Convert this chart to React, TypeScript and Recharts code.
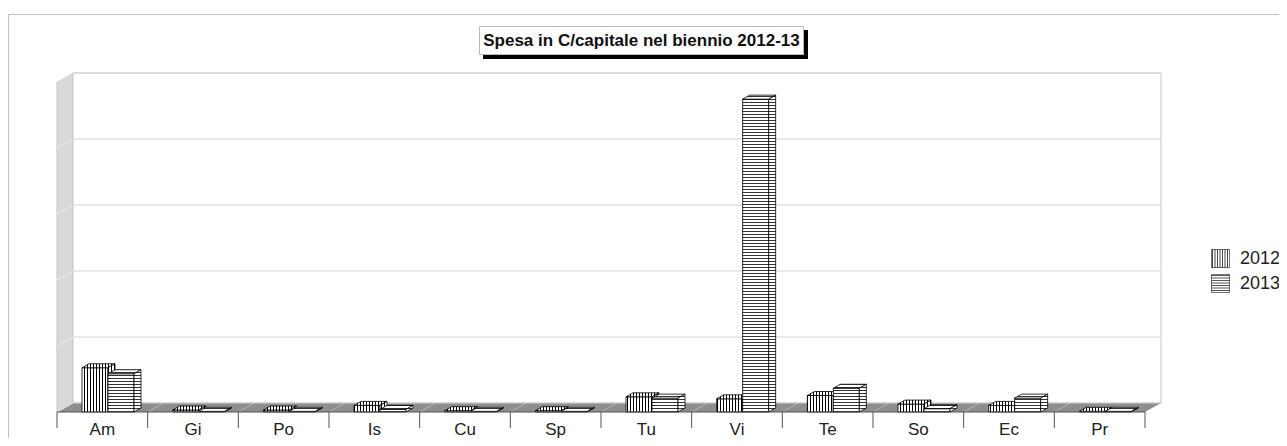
import React from 'react'
import { BarChart, Bar, XAxis, YAxis, CartesianGrid } from 'recharts'

const categories = ['Am', 'Gi', 'Po', 'Is', 'Cu', 'Sp', 'Tu', 'Vi', 'Te', 'So', 'Ec', 'Pr']
const values2012 = [0.67, 0.03, 0.03, 0.1, 0.02, 0.02, 0.23, 0.2, 0.25, 0.12, 0.1, 0.01]
const values2013 = [0.58, 0.01, 0.01, 0.04, 0.01, 0.01, 0.21, 4.74, 0.36, 0.05, 0.21, 0.01]
const yTicks = [0, 1, 2, 3, 4, 5]
const seriesNames = ['2012', '2013']

const data = categories.map((name, i) => ({ name, y2012: values2012[i], y2013: values2013[i] }))

// layout
const W = 1278
const H = 423
const CH = 430 // chart svg height, a bit taller than the frame so labels are not clipped
const M = { top: 67, right: 142, bottom: CH - H, left: 48 }
const AXIS_H = 26
const PLOT_X = M.left
const PLOT_Y = M.top
const PLOT_W = W - M.left - M.right
const PLOT_H = H - M.top - AXIS_H
const BAND = PLOT_W / categories.length
const DX = 16 // wall depth
const DY = 9
const BDX = 7 // bar depth
const BDY = 4
const SHIFT = 6
const FONT = '"Liberation Sans", Arial, sans-serif'

function Box(props: any) {
  const { x, y, width, height, face, top } = props
  const fx = x + SHIFT
  const w = width
  const h = Math.max(height, 0)
  return (
    <g stroke="#000" strokeWidth={0.8} strokeLinejoin="round">
      <rect x={fx} y={y} width={w} height={h} fill={face} />
      <polygon
        points={`${fx},${y} ${fx + w},${y} ${fx + w + BDX},${y - BDY} ${fx + BDX},${y - BDY}`}
        fill={top}
      />
      <polygon
        points={`${fx + w},${y} ${fx + w + BDX},${y - BDY} ${fx + w + BDX},${y + h - BDY} ${fx + w},${y + h}`}
        fill={face}
      />
    </g>
  )
}

function Tick(props: any) {
  const { x, y, payload, index } = props
  const left = x - BAND / 2
  return (
    <g>
      <line x1={left} y1={y} x2={left} y2={y + 16} stroke="#555" />
      {index === categories.length - 1 && (
        <line x1={x + BAND / 2} y1={y} x2={x + BAND / 2} y2={y + 16} stroke="#555" />
      )}
      <text x={x} y={y + 23} textAnchor="middle" fontSize={17} fill="#222" fontFamily={FONT}>
        {payload.value}
      </text>
    </g>
  )
}

function GridLine(props: any) {
  const { x1, y1, x2, y2 } = props
  return (
    <g>
      <line x1={x1} y1={y1} x2={x1 + DX} y2={y1 - DY} stroke="#ececec" />
      <line x1={x1 + DX} y1={y1 - DY} x2={x2 + DX} y2={y2 - DY} stroke="#d4d4d4" />
    </g>
  )
}

function Walls() {
  const bx = PLOT_X + DX
  const by = PLOT_Y - DY
  const bottom = PLOT_Y + PLOT_H
  return (
    <svg width={W} height={H} style={{ position: 'absolute', left: 0, top: 0 }}>
      <polygon
        points={`${PLOT_X},${PLOT_Y} ${bx},${by} ${bx},${bottom - DY} ${PLOT_X},${bottom}`}
        fill="#d9d9d9"
        stroke="#c4c4c4"
      />
      <rect x={bx} y={by} width={PLOT_W} height={PLOT_H} fill="#fff" stroke="#c8c8c8" />
      <polygon
        points={`${PLOT_X},${bottom} ${PLOT_X + PLOT_W},${bottom} ${PLOT_X + PLOT_W + DX},${bottom - DY} ${bx},${bottom - DY}`}
        fill="#8e8e8e"
      />
      {categories.map((c, i) => (
        <line
          key={c}
          x1={PLOT_X + i * BAND}
          y1={bottom}
          x2={PLOT_X + i * BAND + DX}
          y2={bottom - DY}
          stroke="#b4b4b4"
        />
      ))}
    </svg>
  )
}

function LegendIcon({ kind }: { kind: string }) {
  const lines = []
  for (let i = 1.5; i < 19; i += 2.5) {
    lines.push(
      kind === '2012' ? (
        <line key={i} x1={i} y1={0} x2={i} y2={19} stroke="#333" strokeWidth={0.9} />
      ) : (
        <line key={i} x1={0} y1={i} x2={19} y2={i} stroke="#444" strokeWidth={0.9} />
      )
    )
  }
  return (
    <svg width={19} height={19} style={{ display: 'block' }}>
      <rect x={0.5} y={0.5} width={18} height={18} fill="#fff" stroke="#777" />
      {lines}
    </svg>
  )
}

export default function App() {
  return (
    <div style={{ paddingTop: 6 }}>
      <div
        style={{
          position: 'relative',
          width: W,
          height: H,
          borderTop: '1px solid #c2c2c2',
          borderLeft: '1px solid #c2c2c2',
          fontFamily: FONT,
        }}
      >
        <Walls />
        <BarChart width={W} height={CH} data={data} margin={M} barGap={0} barSize={26}>
          <defs>
            <pattern id="p2012" width={3} height={3} patternUnits="userSpaceOnUse">
              <rect width={3} height={3} fill="#fff" />
              <line x1={0.5} y1={0} x2={0.5} y2={3} stroke="#000" strokeWidth={1} />
            </pattern>
            <pattern id="p2013" width={3} height={3} patternUnits="userSpaceOnUse">
              <rect width={3} height={3} fill="#fff" />
              <line x1={0} y1={0.5} x2={3} y2={0.5} stroke="#333" strokeWidth={1} />
            </pattern>
          </defs>
          <CartesianGrid vertical={false} horizontal={(p: any) => <GridLine key={p.key} {...p} />} />
          <XAxis
            dataKey="name"
            height={AXIS_H}
            tickLine={false}
            tickSize={0}
            tickMargin={0}
            axisLine={{ stroke: '#555' }}
            tick={<Tick />}
            interval={0}
          />
          <YAxis hide domain={[0, 5]} ticks={yTicks} />
          <Bar
            dataKey="y2012"
            name={seriesNames[0]}
            isAnimationActive={false}
            shape={(p: any) => <Box {...p} face="url(#p2012)" top="url(#p2012)" />}
          />
          <Bar
            dataKey="y2013"
            name={seriesNames[1]}
            isAnimationActive={false}
            shape={(p: any) => <Box {...p} face="url(#p2013)" top="url(#p2013)" />}
          />
        </BarChart>
        <div
          style={{
            position: 'absolute',
            left: 470,
            top: 11,
            width: 325,
            height: 29,
            background: '#fff',
            border: '1px solid #bbb',
            boxShadow: '4px 4px 0 #000',
            boxSizing: 'border-box',
            display: 'flex',
            alignItems: 'center',
            justifyContent: 'center',
            fontWeight: 'bold',
            fontSize: 17,
            color: '#111',
            whiteSpace: 'nowrap',
          }}
        >
          Spesa in C/capitale nel biennio 2012-13
        </div>
        <div style={{ position: 'absolute', left: 1202, top: 231 }}>
          {seriesNames.map((s) => (
            <div key={s} style={{ display: 'flex', alignItems: 'center', height: 25, fontSize: 18, color: '#222' }}>
              <LegendIcon kind={s} />
              <span style={{ marginLeft: 10 }}>{s}</span>
            </div>
          ))}
        </div>
      </div>
    </div>
  )
}
